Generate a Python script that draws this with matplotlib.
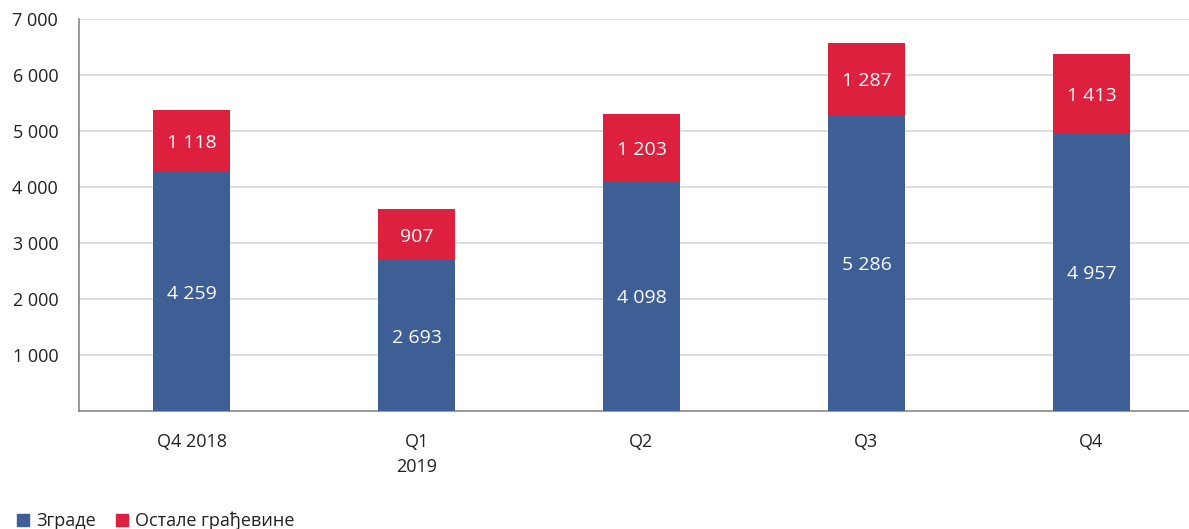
import matplotlib
matplotlib.use("Agg")
import matplotlib.pyplot as plt
from matplotlib.patches import Patch

categories = ["Q4 2018", "Q1\n2019", "Q2", "Q3", "Q4"]
zgrade = [4259, 2693, 4098, 5286, 4957]
ostale = [1118, 907, 1203, 1287, 1413]
yticks = [1000, 2000, 3000, 4000, 5000, 6000, 7000]
ytick_labels = ["1 000", "2 000", "3 000", "4 000", "5 000", "6 000", "7 000"]

def fmt(v):
    return f"{v:,}".replace(",", " ")

plt.rcParams['font.family'] = ['Open Sans', 'DejaVu Sans']
blue = "#3d5f96"
red = "#dc203e"

W, H = 1189, 529
fig = plt.figure(figsize=(W/100, H/100), dpi=100)
left, right, top, bottom = 79, 1189, 19, 411
ax = fig.add_axes([left/W, 1-bottom/H, (right-left)/W, (bottom-top)/H])

x = list(range(len(categories)))
bw = 0.338
ax.bar(x, zgrade, width=bw, color=blue, zorder=3)
ax.bar(x, ostale, width=bw, bottom=zgrade, color=red, zorder=3)

for i in x:
    ax.text(i, zgrade[i]/2, fmt(zgrade[i]), ha="center", va="center_baseline", color="white", fontsize=14, zorder=4)
    ax.text(i, zgrade[i] + ostale[i]/2, fmt(ostale[i]), ha="center", va="center_baseline", color="white", fontsize=14, zorder=4)

ax.set_ylim(0, 7000)
ax.set_xlim(-0.5, -0.5 + (right-left)/225)
ax.set_yticks(yticks)
ax.set_yticklabels(ytick_labels)
ax.set_xticks(x)
ax.set_xticklabels(categories, linespacing=1.55)
ax.tick_params(axis="y", length=0, pad=15, labelsize=13, labelcolor="#222222")
ax.tick_params(axis="x", length=0, pad=15.5, labelsize=13, labelcolor="#222222")
ax.yaxis.grid(True, color="#d9d9d9", linewidth=1.2, zorder=0)
ax.set_axisbelow(True)
for s in ["top", "right"]:
    ax.spines[s].set_visible(False)
ax.spines["left"].set_color("#888888")
ax.spines["bottom"].set_color("#888888")
ax.spines["left"].set_linewidth(1.2)
ax.spines["bottom"].set_linewidth(1.2)

handles = [Patch(color=blue, label="Зграде"), Patch(color=red, label="Остале грађевине")]
fig.legend(handles=handles, loc="lower left", bbox_to_anchor=(0.004, -0.026), ncol=2, frameon=False,
           fontsize=13, handlelength=0.65, handleheight=0.65, handletextpad=0.4, columnspacing=1.1,
           borderaxespad=0.3, labelcolor="#222222")

fig.savefig("out.png", dpi=100)
